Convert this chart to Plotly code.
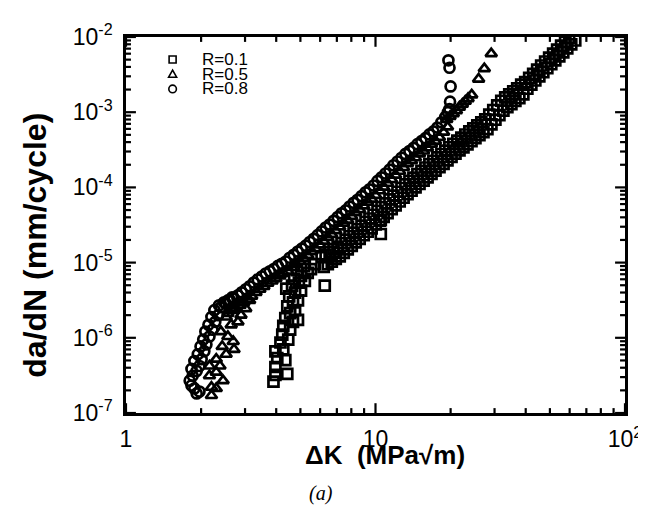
import math
import plotly.graph_objects as go

# ---- Data (ΔK in MPa√m, da/dN in mm/cycle) ----
r01_dk = [3.90, 3.97, 4.43, 3.97, 4.35, 4.04, 3.97, 4.27, 4.16, 4.47, 4.23, 4.55, 4.27, 4.67, 4.89, 4.35,
          4.55, 4.76, 4.43, 4.67, 4.89, 4.51, 4.76, 5.03, 4.39, 4.63, 4.93, 5.21, 4.72, 5.03, 5.35, 4.85,
          5.51, 5.17, 5.71, 6.26, 10.5, 10.5,
          6.08, 6.31, 6.55, 6.79, 7.05, 7.31, 7.59, 7.87, 8.17, 8.47, 8.79, 9.12, 9.46, 9.82, 10.19, 10.57,
          10.96, 11.38, 11.80, 12.25, 12.71, 13.18, 13.68, 14.19, 14.72, 15.28, 15.85, 16.44, 17.06, 17.70,
          18.37, 19.05, 19.77, 20.51, 21.28, 22.08, 22.91, 23.77, 24.66, 25.59, 26.55, 27.54, 28.58, 29.65,
          30.76, 31.92, 33.11, 34.36, 35.65, 36.98, 38.37, 39.81, 41.30, 42.85, 44.46, 46.13, 47.86, 49.66,
          51.52, 53.46, 55.46, 57.54, 59.70,
          6.20, 6.44, 6.68, 6.93, 7.19, 7.46, 7.74, 8.03, 8.33, 8.64, 8.97, 9.30, 9.65, 10.02, 10.39, 10.78,
          11.18, 11.61, 12.04, 12.50, 12.96, 13.44, 13.95, 14.47, 15.01, 15.59, 16.17, 16.77, 17.40, 18.05,
          18.74, 19.43, 20.17, 20.92, 21.71, 22.52, 23.37, 24.25, 25.15, 26.10, 27.08, 28.09, 29.15, 30.24,
          31.38, 32.56, 33.77, 35.05, 36.36, 37.72, 39.14, 40.61, 42.13, 43.71, 45.35, 47.05, 48.82, 50.65,
          52.55, 54.53, 56.57, 58.69, 60.89, 63.18]
r01_dadn = [2.61e-7, 3.22e-7, 3.32e-7, 4.09e-7, 5.05e-7, 5.36e-7, 6.61e-7, 7.0e-7, 8.66e-7, 9.48e-7,
            1.10e-6, 1.28e-6, 1.44e-6, 1.63e-6, 1.73e-6, 1.83e-6, 2.13e-6, 2.33e-6, 2.62e-6, 2.96e-6,
            3.14e-6, 3.55e-6, 4.0e-6, 4.25e-6, 4.51e-6, 4.93e-6, 5.40e-6, 5.73e-6, 6.08e-6, 6.65e-6,
            7.28e-6, 7.96e-6, 8.2e-6, 8.98e-6, 9.53e-6, 4.93e-6, 2.4e-5, 3.67e-5,
            1.18e-5, 1.28e-5, 1.39e-5, 1.51e-5, 1.63e-5, 1.82e-5, 2.02e-5, 2.25e-5, 2.51e-5, 2.79e-5,
            3.11e-5, 3.47e-5, 3.86e-5, 4.33e-5, 4.86e-5, 5.47e-5, 6.15e-5, 6.92e-5, 7.78e-5, 8.75e-5,
            9.82e-5, 1.10e-4, 1.22e-4, 1.35e-4, 1.50e-4, 1.66e-4, 1.84e-4, 2.04e-4, 2.26e-4, 2.51e-4,
            2.78e-4, 3.08e-4, 3.42e-4, 3.79e-4, 4.19e-4, 4.60e-4, 5.05e-4, 5.55e-4, 6.08e-4, 6.68e-4,
            7.33e-4, 8.05e-4, 9.27e-4, 1.07e-3, 1.23e-3, 1.42e-3, 1.57e-3, 1.73e-3, 1.90e-3, 2.08e-3,
            2.33e-3, 2.52e-3, 2.86e-3, 3.24e-3, 3.68e-3, 4.18e-3, 4.72e-3, 5.33e-3, 6.01e-3, 6.79e-3,
            7.67e-3, 8.67e-3, 9.79e-3,
            8.75e-6, 9.51e-6, 1.03e-5, 1.12e-5, 1.21e-5, 1.35e-5, 1.50e-5, 1.67e-5, 1.86e-5, 2.07e-5,
            2.31e-5, 2.57e-5, 2.86e-5, 3.21e-5, 3.61e-5, 4.06e-5, 4.56e-5, 5.13e-5, 5.77e-5, 6.49e-5,
            7.28e-5, 8.15e-5, 9.02e-5, 1.00e-4, 1.11e-4, 1.23e-4, 1.36e-4, 1.51e-4, 1.67e-4, 1.86e-4,
            2.06e-4, 2.29e-4, 2.54e-4, 2.81e-4, 3.10e-4, 3.41e-4, 3.74e-4, 4.11e-4, 4.51e-4, 4.95e-4,
            5.43e-4, 5.97e-4, 6.87e-4, 7.93e-4, 9.12e-4, 1.05e-3, 1.17e-3, 1.28e-3, 1.41e-3, 1.54e-3,
            1.73e-3, 2.05e-3, 2.33e-3, 2.64e-3, 2.99e-3, 3.40e-3, 3.84e-3, 4.34e-3, 4.89e-3, 5.52e-3,
            6.24e-3, 7.05e-3, 7.96e-3, 8.99e-3]

r05_dk = [2.20, 2.30, 2.45, 2.16, 2.20, 2.30, 2.38, 2.16, 2.52, 2.71, 2.69, 2.30, 2.43, 2.56, 2.40, 2.64,
          2.81, 2.52, 2.89, 2.71, 3.02, 2.92, 3.13,
          2.56, 2.66, 2.75, 2.87, 2.97, 3.08, 3.19, 3.32, 3.44, 3.57, 3.70, 3.85, 3.99, 4.14, 4.29, 4.46,
          4.62, 4.79, 4.98, 5.16, 5.36, 5.56, 5.76, 5.98, 6.20, 6.44, 6.68, 6.93, 7.19, 7.46, 7.74, 8.03,
          8.33, 8.64, 8.97, 9.30, 9.65, 10.02, 10.39, 10.78, 11.18, 11.61, 12.04, 12.50, 12.96, 13.44,
          13.95, 14.47, 15.01, 15.59, 16.17, 16.77, 17.40, 18.05, 18.74, 19.43,
          19.3, 19.9, 20.5, 21.1, 21.7, 22.3, 22.9, 23.5, 24.3, 25.9, 27.3, 29.1]
r05_dadn = [1.71e-7, 2.12e-7, 2.69e-7, 3.13e-7, 2.2e-7, 3.5e-7, 4.22e-7, 4.22e-7, 6.04e-7, 7.0e-7,
            8.93e-7, 5.20e-7, 7.67e-7, 1.04e-6, 1.21e-6, 1.49e-6, 1.63e-6, 1.89e-6, 2.00e-6, 2.33e-6,
            2.45e-6, 2.96e-6, 3.14e-6,
            2.11e-6, 2.32e-6, 2.48e-6, 2.72e-6, 2.99e-6, 3.27e-6, 3.59e-6, 4.03e-6, 4.42e-6, 4.84e-6,
            5.31e-6, 5.69e-6, 6.10e-6, 6.68e-6, 7.16e-6, 7.67e-6, 8.61e-6, 9.44e-6, 1.035e-5, 1.135e-5,
            1.245e-5, 1.40e-5, 1.53e-5, 1.72e-5, 1.93e-5, 2.16e-5, 2.37e-5, 2.66e-5, 2.99e-5, 3.35e-5,
            3.67e-5, 4.12e-5, 4.62e-5, 5.07e-5, 5.69e-5, 6.38e-5, 7.0e-5, 7.85e-5, 9.02e-5, 1.01e-4,
            1.135e-4, 1.27e-4, 1.46e-4, 1.64e-4, 1.84e-4, 2.07e-4, 2.26e-4, 2.48e-4, 2.79e-4, 3.05e-4,
            3.35e-4, 3.76e-4, 4.12e-4, 4.62e-4, 5.43e-4, 6.38e-4,
            8.0e-4, 8.8e-4, 9.6e-4, 1.05e-3, 1.17e-3, 1.28e-3, 1.40e-3, 1.52e-3, 1.70e-3, 2.76e-3,
            3.8e-3, 6.0e-3]

r08_dk = [1.92, 1.83, 1.80, 1.88, 1.97, 1.85, 1.92, 1.83, 1.97, 1.88, 2.01, 1.94, 2.06, 1.99, 2.10, 2.04,
          2.16, 2.08, 2.22, 2.14, 2.28, 2.20, 2.34, 2.26, 2.40, 2.47, 2.56, 2.36, 2.66,
          2.51, 2.61, 2.70, 2.81, 2.91, 3.02, 3.13, 3.25, 3.37, 3.50, 3.63, 3.77, 3.91, 4.06, 4.21, 4.37,
          4.53, 4.70, 4.88, 5.06, 5.25, 5.45, 5.65, 5.86, 6.08, 6.31, 6.55, 6.79, 7.05, 7.31, 7.59, 7.87,
          8.17, 8.47, 8.79, 9.12, 9.46, 9.82, 10.19, 10.57, 10.96, 11.38, 11.80, 12.25, 12.71, 13.18,
          13.68, 14.19, 14.72, 15.28, 15.85, 16.44, 17.06, 17.70, 18.37, 19.05,
          19.5, 19.8, 19.9, 20.0, 19.8, 19.6]
r08_dadn = [1.82e-7, 2.32e-7, 2.69e-7, 2.12e-7, 1.93e-7, 3.13e-7, 3.63e-7, 3.86e-7, 4.22e-7, 4.90e-7,
            5.20e-7, 6.04e-7, 6.61e-7, 7.67e-7, 8.15e-7, 9.48e-7, 1.04e-6, 1.21e-6, 1.28e-6, 1.49e-6,
            1.63e-6, 1.89e-6, 2.00e-6, 2.33e-6, 2.55e-6, 2.96e-6, 3.14e-6, 2.70e-6, 3.44e-6,
            2.85e-6, 3.13e-6, 3.35e-6, 3.67e-6, 4.03e-6, 4.42e-6, 4.84e-6, 5.43e-6, 5.96e-6, 6.53e-6,
            7.16e-6, 7.67e-6, 8.22e-6, 9.02e-6, 9.66e-6, 1.035e-5, 1.16e-5, 1.27e-5, 1.40e-5, 1.53e-5,
            1.68e-5, 1.88e-5, 2.07e-5, 2.32e-5, 2.60e-5, 2.92e-5, 3.20e-5, 3.59e-5, 4.03e-5, 4.52e-5,
            4.95e-5, 5.56e-5, 6.24e-5, 6.84e-5, 7.67e-5, 8.61e-5, 9.44e-5, 1.06e-4, 1.22e-4, 1.36e-4,
            1.53e-4, 1.72e-4, 1.97e-4, 2.21e-4, 2.48e-4, 2.79e-4, 3.05e-4, 3.35e-4, 3.76e-4, 4.12e-4,
            4.52e-4, 5.07e-4, 5.56e-4, 6.24e-4, 7.33e-4, 8.61e-4,
            1.0e-3, 1.1e-3, 1.38e-3, 2.2e-3, 3.9e-3, 4.9e-3]

legend_labels = ["R=0.1", "R=0.5", "R=0.8"]

x_tickvals = [1, 10, 100]
x_ticktext = ["1", "10", "10<sup>2</sup>"]
y_tickvals = [1e-7, 1e-6, 1e-5, 1e-4, 1e-3, 1e-2]
y_ticktext = ["10<sup>-7</sup>", "10<sup>-6</sup>", "10<sup>-5</sup>",
              "10<sup>-4</sup>", "10<sup>-3</sup>", "10<sup>-2</sup>"]

X_RANGE = [0, 2]     # log10 of axis limits
Y_RANGE = [-7, -2]

W, H = 646, 510
M_L, M_R, M_T, M_B = 118, 25, 21, 105
PLOT_W = W - M_L - M_R
PLOT_H = H - M_T - M_B

FONT = "Liberation Sans, Arial, Helvetica, sans-serif"

fig = go.Figure()
series = [
    (legend_labels[0], r01_dk, r01_dadn, "square-open"),
    (legend_labels[1], r05_dk, r05_dadn, "triangle-up-open"),
    (legend_labels[2], r08_dk, r08_dadn, "circle-open"),
]
for name, xs, ys, sym in series:
    fig.add_trace(go.Scatter(
        x=xs, y=ys, mode="markers", name=name, showlegend=False,
        marker=dict(symbol=sym, size=10, color="black", line=dict(width=2.7, color="black")),
    ))

axis_common = dict(
    type="log", showline=True, linewidth=2.5, linecolor="black", mirror=True,
    ticks="", showgrid=False, zeroline=False,
    tickfont=dict(family=FONT, size=23, color="black"),
)
fig.update_xaxes(range=X_RANGE, tickmode="array", tickvals=x_tickvals, ticktext=x_ticktext,
                 ticklabelstandoff=4, **axis_common)
fig.update_yaxes(range=Y_RANGE, tickmode="array", tickvals=y_tickvals, ticktext=y_ticktext,
                 ticklabelstandoff=6, **axis_common)

# ---- inward tick marks on all four sides (plain paper-coordinate line shapes) ----
shapes = []
tick_line = dict(color="black", width=2.2)
x_minor = [m * 10 ** e for e in range(0, 2) for m in range(2, 10)]
y_minor = [m * 10.0 ** e for e in range(-7, -2) for m in range(2, 10)]


def xfrac(v):
    return (math.log10(v) - X_RANGE[0]) / (X_RANGE[1] - X_RANGE[0])


def yfrac(v):
    return (math.log10(v) - Y_RANGE[0]) / (Y_RANGE[1] - Y_RANGE[0])


for vals, ln in ((x_tickvals, 10), (x_minor, 5)):
    dl = ln / PLOT_H
    for v in vals:
        f = xfrac(v)
        shapes.append(dict(type="line", xref="paper", yref="paper",
                           x0=f, x1=f, y0=0, y1=dl, line=tick_line))
        shapes.append(dict(type="line", xref="paper", yref="paper",
                           x0=f, x1=f, y0=1, y1=1 - dl, line=tick_line))
for vals, ln in ((y_tickvals, 10), (y_minor, 5)):
    dl = ln / PLOT_W
    for v in vals:
        f = yfrac(v)
        shapes.append(dict(type="line", xref="paper", yref="paper",
                           x0=0, x1=dl, y0=f, y1=f, line=tick_line))
        shapes.append(dict(type="line", xref="paper", yref="paper",
                           x0=1, x1=1 - dl, y0=f, y1=f, line=tick_line))

# ---- hand-drawn legend (tight line spacing as in the reference) ----
leg_sym_x = 0.0934          # paper x of legend symbols
leg_txt_x = 0.149           # paper x of legend text start
leg_rows = [0.940, 0.901, 0.862]
annotations = []
for i, (lab, yy) in enumerate(zip(legend_labels, leg_rows)):
    common = dict(xref="paper", yref="paper", xsizemode="pixel", ysizemode="pixel",
                  xanchor=leg_sym_x, yanchor=yy,
                  line=dict(color="black", width=1.6), fillcolor="rgba(0,0,0,0)")
    if i == 0:
        shapes.append(dict(type="rect", x0=-3.5, x1=3.5, y0=-3.5, y1=3.5, **common))
    elif i == 1:
        shapes.append(dict(type="path", path="M-4,-3 L4,-3 L0,4 Z", **common))
    else:
        shapes.append(dict(type="circle", x0=-3.8, x1=3.8, y0=-3.8, y1=3.8, **common))
    annotations.append(dict(text=lab, xref="paper", yref="paper", x=leg_txt_x, y=yy,
                            showarrow=False, xanchor="left", yanchor="middle",
                            font=dict(family=FONT, size=17, color="black")))

annotations += [
    dict(text="<b>ΔK\u00a0\u00a0(MPa√m)</b>", xref="paper", yref="paper", x=0.52, y=0,
         yshift=-42, showarrow=False, xanchor="center", yanchor="middle",
         font=dict(family=FONT, size=26, color="black")),
    dict(text="<b>da/dN (mm/cycle)</b>", xref="paper", yref="paper", x=0, y=0.445,
         xshift=-91, showarrow=False, textangle=-90, xanchor="center", yanchor="middle",
         font=dict(family=FONT, size=32, color="black")),
    dict(text="<i>(a)</i>", xref="paper", yref="paper", x=0.39, y=0,
         yshift=-80, showarrow=False, xanchor="center", yanchor="middle",
         font=dict(family="Liberation Serif, Times New Roman, serif", size=20, color="black")),
]

fig.update_layout(
    width=W, height=H,
    margin=dict(l=M_L, r=M_R, t=M_T, b=M_B),
    paper_bgcolor="white", plot_bgcolor="white",
    font=dict(family=FONT, color="black"),
    showlegend=False,
    shapes=shapes,
    annotations=annotations,
)

fig.write_html("out.html")
